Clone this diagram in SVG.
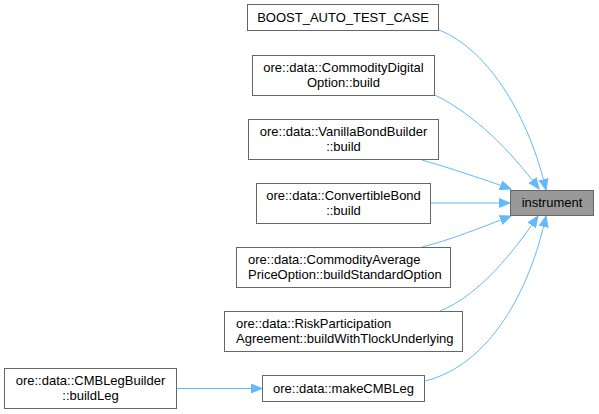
<svg xmlns="http://www.w3.org/2000/svg" width="599" height="414" viewBox="0 0 599 414">
<style>
  .box { fill: #ffffff; stroke: #666666; stroke-width: 1; }
  .hl { fill: #999999; stroke: #666666; stroke-width: 1; }
  text { font-family: "Liberation Sans", Arial, sans-serif; font-size: 13px; fill: #000000; }
  .c { text-anchor: middle; }
  .s { text-anchor: start; }
  .edge { fill: none; stroke: #63b8ff; stroke-width: 1; marker-end: url(#arrow); }
</style>
<defs>
  <marker id="arrow" markerUnits="userSpaceOnUse" markerWidth="12" markerHeight="10" refX="11" refY="5" orient="auto">
    <path d="M0,0.5 L11,5 L0,9.5 z" fill="#63b8ff" stroke="#63b8ff" stroke-width="1"/>
  </marker>
</defs>
<rect width="599" height="414" fill="#ffffff"/>
<g id="connectors">
  <path class="edge" d="M439,30 C490,50 530,120 546,190"/>
  <path class="edge" d="M435,95 C475,115 510,150 539,189"/>
  <path class="edge" d="M422,160 C450,168 480,178 511,189"/>
  <path class="edge" d="M431,203 L510,203"/>
  <path class="edge" d="M422,247 C450,240 480,228 511,216"/>
  <path class="edge" d="M440,311 C480,295 515,250 538,216"/>
  <path class="edge" d="M425,381 C490,365 530,290 546,216"/>
  <path class="edge" d="M176,388.5 L262,388.5"/>
</g>
<g id="node-instrument">
  <rect class="hl" x="510.5" y="190.5" width="83" height="25"/>
  <text class="c" x="552" y="207">instrument</text>
</g>
<g id="node-boost">
  <rect class="box" x="247.5" y="4.5" width="191" height="26"/>
  <text class="c" x="343" y="22">BOOST_AUTO_TEST_CASE</text>
</g>
<g id="node-commoditydigital">
  <rect class="box" x="252.5" y="55.5" width="182" height="40"/>
  <text class="c" x="343.5" y="72">ore::data::CommodityDigital</text>
  <text class="c" x="343.5" y="87">Option::build</text>
</g>
<g id="node-vanillabond">
  <rect class="box" x="248.5" y="119.5" width="190" height="40"/>
  <text class="c" x="343.5" y="136">ore::data::VanillaBondBuilder</text>
  <text class="c" x="343.5" y="151">::build</text>
</g>
<g id="node-convertiblebond">
  <rect class="box" x="256.5" y="183.5" width="174" height="40"/>
  <text class="c" x="343.5" y="200">ore::data::ConvertibleBond</text>
  <text class="c" x="343.5" y="215">::build</text>
</g>
<g id="node-commodityaverage">
  <rect class="box" x="236.5" y="247.5" width="214" height="40"/>
  <text class="s" x="248" y="264">ore::data::CommodityAverage</text>
  <text class="s" x="248" y="279">PriceOption::buildStandardOption</text>
</g>
<g id="node-riskparticipation">
  <rect class="box" x="224.5" y="311.5" width="238" height="40"/>
  <text class="s" x="236" y="328">ore::data::RiskParticipation</text>
  <text class="s" x="236" y="343">Agreement::buildWithTlockUnderlying</text>
</g>
<g id="node-makecmbleg">
  <rect class="box" x="262.5" y="375.5" width="162" height="26"/>
  <text class="c" x="343.5" y="393">ore::data::makeCMBLeg</text>
</g>
<g id="node-cmblegbuilder">
  <rect class="box" x="4.5" y="368.5" width="172" height="40"/>
  <text class="c" x="90.5" y="385">ore::data::CMBLegBuilder</text>
  <text class="c" x="90.5" y="400">::buildLeg</text>
</g>
</svg>
